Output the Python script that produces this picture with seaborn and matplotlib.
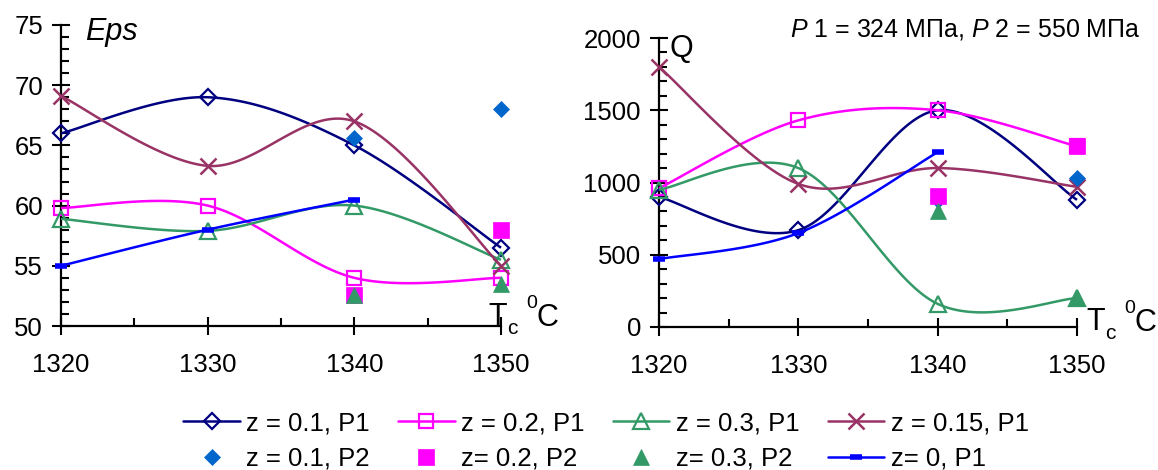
import numpy as np
import matplotlib
matplotlib.use("Agg")
import matplotlib.pyplot as plt
from matplotlib.lines import Line2D
from matplotlib.ticker import MultipleLocator
import seaborn as sns

# temperatures (x axis)
temps = [1320, 1330, 1340, 1350]
temps_z0 = [1320, 1330, 1340]
temps_p2 = [1340, 1350]

# Eps values, pressure P1
eps_z01_p1 = [66.0, 69.0, 65.0, 56.5]
eps_z02_p1 = [59.8, 60.0, 54.0, 54.0]
eps_z03_p1 = [58.9, 57.9, 60.0, 55.5]
eps_z015_p1 = [69.1, 63.3, 67.0, 55.0]
eps_z0_p1 = [55.0, 58.0, 60.5]
# Eps values, pressure P2
eps_z01_p2 = [65.6, 68.0]
eps_z02_p2 = [52.6, 58.0]
eps_z03_p2 = [52.6, 53.5]

# Q values, pressure P1
q_z01_p1 = [900, 670, 1500, 880]
q_z02_p1 = [960, 1430, 1500, 1250]
q_z03_p1 = [950, 1100, 160, 200]
q_z015_p1 = [1800, 990, 1100, 970]
q_z0_p1 = [470, 650, 1210]
# Q values, pressure P2
q_z01_p2 = [880, 1030]
q_z02_p2 = [910, 1250]
q_z03_p2 = [800, 200]

labels = ["z = 0.1, P1", "z = 0.2, P1", "z = 0.3, P1", "z = 0.15, P1",
          "z = 0.1, P2", "z= 0.2, P2", "z= 0.3, P2", "z= 0, P1"]

NAVY = "#000080"
MAGENTA = "#FF00FF"
GREEN = "#339966"
MAROON = "#993366"
BLUE = "#0000FF"
DBLUE = "#0066CC"

sns.set_style("ticks")
plt.rcParams["font.family"] = ["Liberation Sans", "DejaVu Sans"]
plt.rcParams["mathtext.fontset"] = "custom"
plt.rcParams["mathtext.rm"] = "Liberation Sans"
plt.rcParams["mathtext.it"] = "Liberation Sans:italic"
for key in ("text.color", "axes.labelcolor", "xtick.color", "ytick.color",
            "axes.edgecolor"):
    plt.rcParams[key] = "black"

W, H = 1158, 470


def px(x, y):
    return x / W, 1 - y / H


def smooth(xs, ys, n=40):
    # Excel-like smoothed line (cubic Bezier through the points)
    pts = np.column_stack([xs, ys]).astype(float)
    ext = np.vstack([pts[0], pts, pts[-1]])
    segs = []
    t = np.linspace(0, 1, n)[:, None]
    for i in range(len(pts) - 1):
        p0, p1, p2, p3 = ext[i], ext[i + 1], ext[i + 2], ext[i + 3]
        c1 = p1 + (p2 - p0) / 6
        c2 = p2 - (p3 - p1) / 6
        segs.append((1 - t) ** 3 * p1 + 3 * (1 - t) ** 2 * t * c1
                    + 3 * (1 - t) * t ** 2 * c2 + t ** 3 * p2)
    return np.vstack(segs)


# style per series: (color, marker, ms, filled, line)
styles = [
    (NAVY, "D", 8, False, True),
    (MAGENTA, "s", 10, False, True),
    (GREEN, "^", 11, False, True),
    (MAROON, "x", 11, False, True),
    (DBLUE, "D", 8.5, True, False),
    (MAGENTA, "s", 11, True, False),
    (GREEN, "^", 12, True, False),
    (BLUE, "_", 8, True, True),
]


def marker_kw(color, mk, filled):
    if mk == "_":
        return dict(mec=color, mfc=color, mew=4)
    if mk == "x":
        return dict(mec=color, mfc=color, mew=1.8)
    if filled:
        return dict(mfc=color, mec=color, mew=0.5)
    return dict(mfc="none", mec=color, mew=1.6)


def draw(ax, series):
    for k, (xs, ys) in enumerate(series):
        color, mk, ms, filled, line = styles[k]
        z = 3 + k
        if line:
            c = smooth(xs, ys)
            ax.plot(c[:, 0], c[:, 1], color=color, lw=1.8, zorder=z,
                    clip_on=False, solid_capstyle="butt")
        kw = dict(marker=mk, ms=ms, linestyle="", color=color, zorder=z + 0.5,
                  clip_on=False)
        kw.update(marker_kw(color, mk, filled))
        sns.lineplot(x=xs, y=ys, ax=ax, **kw)


def style_axes(ax, ylim, major, minor):
    ax.set_xlim(1320, 1350)
    ax.set_ylim(*ylim)
    ax.xaxis.set_major_locator(MultipleLocator(10))
    ax.xaxis.set_minor_locator(MultipleLocator(5))
    ax.yaxis.set_major_locator(MultipleLocator(major))
    ax.yaxis.set_minor_locator(MultipleLocator(minor))
    sns.despine(ax=ax)
    for s in ("left", "bottom"):
        ax.spines[s].set_linewidth(1.6)
        ax.spines[s].set_color("black")
    ax.tick_params(which="major", direction="inout", length=13, width=1.5,
                   labelsize=18.5, colors="black")
    ax.tick_params(which="minor", direction="in", length=6, width=1.5,
                   colors="black")
    ax.tick_params(axis="x", which="major", pad=13)
    ax.tick_params(axis="y", which="major", pad=6.5)
    ax.set_xlabel("")
    ax.set_ylabel("")


fig = plt.figure(figsize=(W / 100, H / 100), dpi=100)
ax1 = fig.add_axes([61 / W, 1 - 326 / H, 440 / W, 301 / H])
ax2 = fig.add_axes([659 / W, 1 - 327 / H, 418 / W, 289 / H])

draw(ax1, [(temps, eps_z01_p1), (temps, eps_z02_p1), (temps, eps_z03_p1),
           (temps, eps_z015_p1), (temps_p2, eps_z01_p2), (temps_p2, eps_z02_p2),
           (temps_p2, eps_z03_p2), (temps_z0, eps_z0_p1)])
draw(ax2, [(temps, q_z01_p1), (temps, q_z02_p1), (temps, q_z03_p1),
           (temps, q_z015_p1), (temps_p2, q_z01_p2), (temps_p2, q_z02_p2),
           (temps_p2, q_z03_p2), (temps_z0, q_z0_p1)])

style_axes(ax1, (50, 75), 5, 1)
style_axes(ax2, (0, 2000), 500, 100)

# panel titles
fig.text(*px(85, 40), "Eps", fontsize=22, fontstyle="italic", va="baseline")
fig.text(*px(669, 57), "Q", fontsize=22, va="baseline")
fig.text(*px(790, 36), r"$P$ 1 = 324 МПа, $P$ 2 = 550 МПа", fontsize=18,
         va="baseline")

# axis unit labels
for x0, y0 in [(488, 325), (1086, 330)]:
    fig.text(*px(x0, y0), "T", fontsize=22, va="baseline")
    fig.text(*px(x0 + 19, y0 + 9), "c", fontsize=15, va="baseline")
    fig.text(*px(x0 + 38, y0 - 17), "0", fontsize=14, va="baseline")
    fig.text(*px(x0 + 49, y0 + 1), "C", fontsize=22, va="baseline")

# legend
handles = []
for k, (color, mk, ms, filled, line) in enumerate(styles):
    kw = dict(color=color, marker=mk, ms=ms, lw=1.8 if line else 0,
              linestyle="-" if line else "")
    kw.update(marker_kw(color, mk, filled))
    handles.append(Line2D([], [], **kw))

order = [0, 4, 1, 5, 2, 6, 3, 7]
fig.legend([handles[i] for i in order], [labels[i] for i in order],
           ncol=4, loc="center", bbox_to_anchor=px(606, 441), frameon=False,
           fontsize=18.5, handlelength=2.2, handletextpad=0.25,
           columnspacing=1.1, labelspacing=0.45, borderpad=0)

fig.savefig("out.png", dpi=100)
